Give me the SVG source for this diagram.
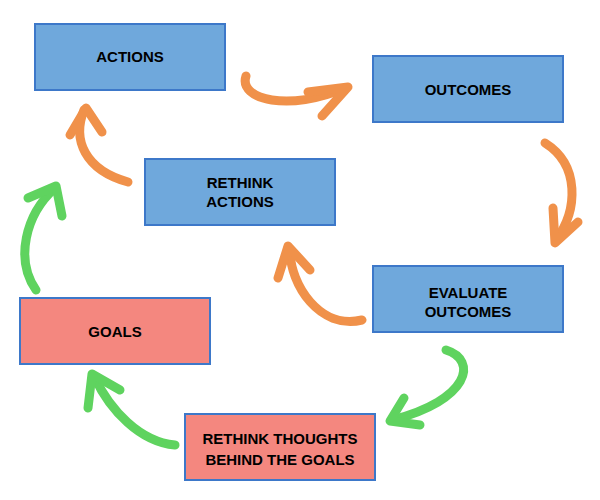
<svg xmlns="http://www.w3.org/2000/svg" width="600" height="500" viewBox="0 0 600 500">
<style>
.b{fill:#6fa8dc;stroke:#3d78c9;stroke-width:2}
.p{fill:#f4877f;stroke:#3d78c9;stroke-width:2}
text{font-family:"Liberation Sans",Arial,sans-serif;font-weight:bold;font-size:15px;text-anchor:middle;fill:#000}
.o{fill:none;stroke:#f0914a;stroke-width:9;stroke-linecap:round;stroke-linejoin:round}
.g{fill:none;stroke:#5fd35f;stroke-width:9;stroke-linecap:round;stroke-linejoin:round}
</style>
<rect width="600" height="500" fill="#fff"/>
<g id="connectors">
<path class="o" d="M246,76 C238,100 290,112 345,88"/><path class="o" d="M308,92 L348,87 L322,116"/>
<path class="o" d="M545,143 C580,165 578,210 556,240"/><path class="o" d="M553,208 L555,243 L578,222"/>
<path class="o" d="M362,320 C320,330 290,285 290,250"/><path class="o" d="M278,278 L288,246 L310,270"/>
<path class="o" d="M128,182 C85,170 72,140 84,110"/><path class="o" d="M70,135 L86,108 L102,132"/>
<path class="g" d="M446,350 C478,360 470,400 392,420"/><path class="g" d="M404,398 L390,421 L420,425"/>
<path class="g" d="M175,445 C140,442 110,410 95,378"/><path class="g" d="M88,408 L92,374 L120,390"/>
<path class="g" d="M36,290 C15,260 25,215 55,188"/><path class="g" d="M28,198 L56,186 L62,216"/>
</g>
<g id="actions"><rect class="b" x="35" y="24" width="190" height="66"/><text x="130" y="62">ACTIONS</text></g>
<g id="outcomes"><rect class="b" x="373" y="56" width="190" height="66"/><text x="468" y="95">OUTCOMES</text></g>
<g id="rethink-actions"><rect class="b" x="145" y="159" width="190" height="66"/><text x="240" y="188">RETHINK</text><text x="240" y="207">ACTIONS</text></g>
<g id="evaluate"><rect class="b" x="373" y="266" width="190" height="66"/><text x="468" y="298">EVALUATE</text><text x="468" y="317">OUTCOMES</text></g>
<g id="goals"><rect class="p" x="20" y="298" width="190" height="66"/><text x="115" y="337">GOALS</text></g>
<g id="rethink-thoughts"><rect class="p" x="185" y="414" width="190" height="66"/><text x="280" y="444">RETHINK THOUGHTS</text><text x="280" y="465">BEHIND THE GOALS</text></g>
</svg>
